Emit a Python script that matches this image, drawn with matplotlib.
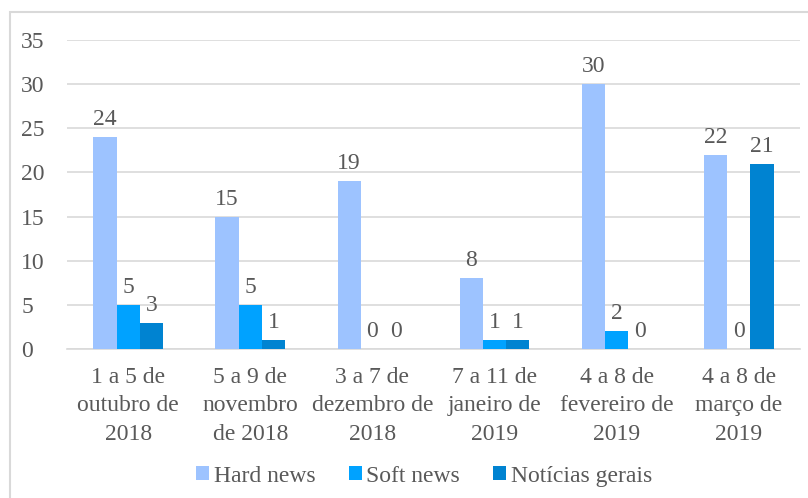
import matplotlib
matplotlib.use("Agg")
import matplotlib.pyplot as plt
import numpy as np
from matplotlib.patches import Rectangle

categories = [
    "1 a 5 de\noutubro de\n2018",
    "5 a 9 de\nnovembro\nde 2018",
    "3 a 7 de\ndezembro de\n2018",
    "7 a 11 de\njaneiro de\n2019",
    "4 a 8 de\nfevereiro de\n2019",
    "4 a 8 de\nmarço de\n2019",
]
hard_news = [24, 15, 19, 8, 30, 22]
soft_news = [5, 5, 0, 1, 2, 0]
noticias_gerais = [3, 1, 0, 1, 0, 21]

series = [
    ("Hard news", hard_news, "#9DC3FF"),
    ("Soft news", soft_news, "#00A2FF"),
    ("Notícias gerais", noticias_gerais, "#0083D1"),
]

text_color = "#595959"
grid_color = "#D9D9D9"
fsize = 17

plt.rcParams['font.family'] = ['Liberation Serif', 'DejaVu Serif']
plt.rcParams['font.size'] = fsize

fig = plt.figure(figsize=(8.08, 4.98), dpi=100)
ax = fig.add_axes([0.083, 0.299, 0.907, 0.621])

# chart border
fig.patches.append(Rectangle((10 / 808, -0.1), 1.2, 1 - 12 / 498 + 0.1,
                             transform=fig.transFigure, fill=False,
                             edgecolor=grid_color, linewidth=1.5))

x = np.arange(len(categories))
width = 0.19
for i, (name, vals, color) in enumerate(series):
    pos = x + (i - 1) * width
    ax.bar(pos, vals, width, color=color, label=name, zorder=3)
    for xp, v in zip(pos, vals):
        ax.annotate(str(v), (xp, v), xytext=(0, 5), textcoords="offset points",
                    ha="center", va="bottom", color=text_color, fontsize=fsize)

ax.set_xlim(-0.5, len(categories) - 0.5)
ax.set_ylim(0, 35)
ax.set_yticks(range(0, 36, 5))
ax.yaxis.grid(True, color=grid_color, linewidth=1.2, zorder=0)
ax.set_axisbelow(True)
for side in ["top", "right", "left"]:
    ax.spines[side].set_visible(False)
ax.spines["bottom"].set_color(grid_color)
ax.spines["bottom"].set_linewidth(1.2)
ax.tick_params(axis="both", length=0, colors=text_color, labelsize=fsize)
ax.tick_params(axis="y", pad=33)
ax.tick_params(axis="x", pad=13)
ax.set_xticks(x)
ax.set_xticklabels(categories, linespacing=1.45)
for lbl in ax.get_yticklabels():
    lbl.set_horizontalalignment("left")

leg = fig.legend(loc="center", bbox_to_anchor=(0.525, 0.044), ncol=3, frameon=False,
                 handlelength=0.55, handleheight=0.55, handletextpad=0.2,
                 columnspacing=1.4,
                 prop={'family': ['Liberation Serif', 'DejaVu Serif'], 'size': fsize})
for t in leg.get_texts():
    t.set_color(text_color)

fig.savefig("out.png", dpi=100)
